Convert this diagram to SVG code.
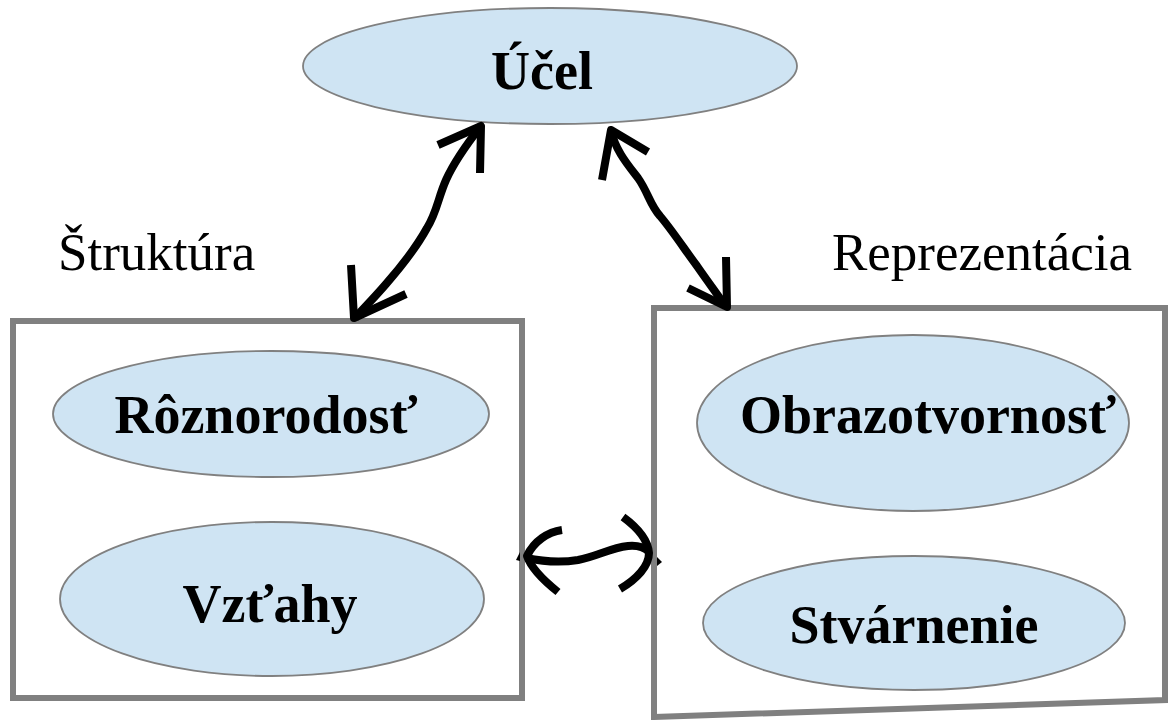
<svg xmlns="http://www.w3.org/2000/svg" width="1171" height="720" viewBox="0 0 1171 720">
<style>
.bg{fill:#ffffff}
.box{fill:none;stroke:#808080;stroke-width:6}
.ell{fill:#cfe4f3;stroke:#808080;stroke-width:1.8}
.lbl{font-family:"Liberation Serif","Times New Roman",serif;font-weight:bold;font-size:54px;fill:#000;text-anchor:middle}
.cap{font-family:"Liberation Serif","Times New Roman",serif;font-size:53px;fill:#000}
.arr{fill:none;stroke:#000;stroke-width:8;stroke-linecap:butt;stroke-linejoin:round}
.tip{fill:#000}
</style>
<rect class="bg" x="0" y="0" width="1171" height="720"/>
<g id="label-struktura"><text class="cap" x="58" y="270">Štruktúra</text></g>
<g id="label-reprezentacia"><text class="cap" x="832" y="270">Reprezentácia</text></g>
<g id="box-struktura"><path class="box" d="M13,321 H522 V698 H13 Z"/></g>
<g id="box-reprezentacia"><path class="box" d="M654,308 H1165 V700 L654,717 Z"/></g>
<g id="node-ucel">
<ellipse class="ell" cx="550" cy="66" rx="247" ry="58"/>
<text class="lbl" x="542" y="89">Účel</text>
</g>
<g id="node-roznorodost">
<ellipse class="ell" cx="271" cy="414" rx="218" ry="63"/>
<text class="lbl" x="266" y="433">Rôznorodosť</text>
</g>
<g id="node-vztahy">
<ellipse class="ell" cx="272" cy="599" rx="212" ry="77"/>
<text class="lbl" x="270" y="622">Vzťahy</text>
</g>
<g id="node-obrazotvornost">
<ellipse class="ell" cx="913" cy="423" rx="216" ry="88"/>
<text class="lbl" x="928" y="433">Obrazotvornosť</text>
</g>
<g id="node-stvarnenie">
<ellipse class="ell" cx="914" cy="623" rx="211" ry="67"/>
<text class="lbl" x="914" y="643">Stvárnenie</text>
</g>
<g id="connectors">
<path class="arr" d="M481,126 C470,140 455,160 446,180 C438,198 437,212 427,228 C416,248 400,268 386,284 C374,298 362,310 355,318"/>
<path class="arr" d="M438,145 L481,126 L480,173"/>
<path class="arr" d="M351,265 L354,318 L406,294"/>
<path class="arr" d="M611,130 C615,150 628,165 638,178 C648,192 650,205 660,216 C672,230 685,250 697,266 C708,282 718,295 726,307"/>
<path class="arr" d="M602,180 L611,130 L648,152"/>
<path class="arr" d="M726,257 L727,307 L688,288"/>
<path class="arr" d="M526,558 C545,562 560,563 578,560 C598,556 610,548 628,546 C638,545 645,548 649,552"/>
<path class="arr" d="M562,530 C548,532 534,541 527,556 C531,568 543,580 558,592"/>
<path class="arr" d="M623,517 C638,528 648,540 649,553 C649,566 637,579 620,589"/>
<polygon class="tip" points="516,560 520,552 520,561"/>
<polygon class="tip" points="662,562 657,557 657,566"/>
</g>
</svg>
